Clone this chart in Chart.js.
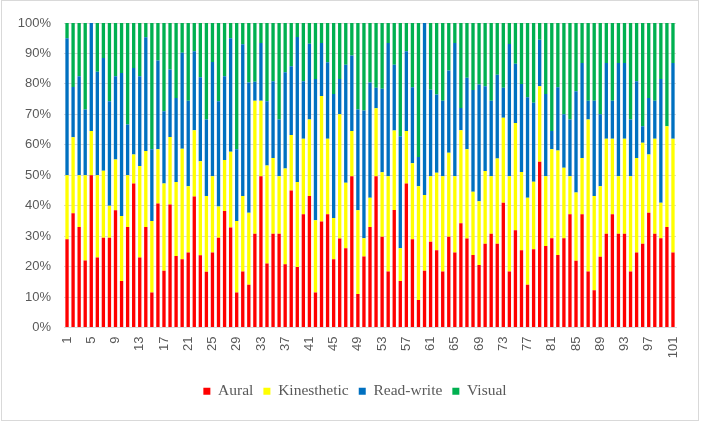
<!DOCTYPE html>
<html>
<head>
<meta charset="utf-8">
<script src="https://cdn.jsdelivr.net/npm/chart.js@4/dist/chart.umd.min.js"></script>
<style>
  html, body { margin: 0; padding: 0; background: #fff; }
  #wrap { width: 701px; height: 424px; position: relative; }
</style>
</head>
<body>
<div id="wrap"><canvas id="main-chart" width="701" height="424"></canvas></div>
<script>
// category labels (respondents 1..101)
const categories = [
  1, 2, 3, 4, 5, 6, 7, 8, 9, 10, 11, 12, 13, 14, 15, 16, 17, 18, 19, 20,
  21, 22, 23, 24, 25, 26, 27, 28, 29, 30, 31, 32, 33, 34, 35, 36, 37, 38, 39, 40,
  41, 42, 43, 44, 45, 46, 47, 48, 49, 50, 51, 52, 53, 54, 55, 56, 57, 58, 59, 60,
  61, 62, 63, 64, 65, 66, 67, 68, 69, 70, 71, 72, 73, 74, 75, 76, 77, 78, 79, 80,
  81, 82, 83, 84, 85, 86, 87, 88, 89, 90, 91, 92, 93, 94, 95, 96, 97, 98, 99, 100, 101
];

// share of each learning style per respondent (%)
const aural = [
  29, 37.5, 33, 22, 50, 23, 29.5, 29.5, 38.5, 15.3,
  33, 47.3, 23, 33, 11.5, 40.7, 18.6, 40.4, 23.5, 22.4,
  24.6, 43, 23.7, 18.3, 24.6, 29.5, 38.3, 32.8, 11.5, 18.4,
  14, 30.8, 49.7, 21, 30.8, 30.8, 20.8, 45, 19.9, 37.2,
  43.2, 11.5, 34.8, 37.2, 22.4, 29.2, 26, 49.7, 11, 23.3,
  33, 49.7, 29.8, 18.4, 38.6, 15.3, 47.3, 29, 9, 18.6,
  28.2, 25.4, 18.4, 29.8, 24.6, 34.2, 29.2, 23.8, 20.5, 27.5,
  30.8, 27.5, 41, 18.4, 31.9, 25.4, 14, 25.7, 54.4, 26.8,
  29.3, 23.8, 29.3, 37.2, 21.9, 37.2, 18.4, 12.2, 23.2, 30.8,
  37.2, 30.8, 30.8, 18.4, 24.6, 27.5, 37.7, 30.8, 29.3, 33, 24.6
];
const kinesthetic = [
  21, 25, 17, 28, 14.5, 27, 22, 10.5, 16.7, 21.3,
  17, 9.5, 30, 25, 23.5, 17.8, 28.7, 22.2, 24.3, 36.3,
  21.8, 21.8, 30.9, 24.9, 25.1, 10.2, 16.7, 24.9, 23.5, 24.8,
  23.7, 43.7, 24.8, 32.2, 24.9, 18.9, 31.4, 18.2, 27.9, 24.8,
  25.1, 23.7, 41.2, 24.8, 13.6, 40.8, 21.5, 14.8, 27.5, 6,
  9.6, 22.3, 21.2, 31.3, 26.1, 10.7, 17.2, 24.9, 37.4, 24.9,
  21.5, 25.4, 31.3, 27.6, 25.1, 30.6, 29.3, 20.8, 21, 23.9,
  18.9, 28, 27.9, 31.3, 35.3, 25.7, 28.6, 22.2, 24.8, 22.9,
  29.2, 34.3, 23.2, 12.5, 22.4, 18.5, 49.9, 31, 23.2, 31.2,
  24.8, 18.9, 31.2, 31.3, 31.1, 33.2, 19.1, 31.2, 11.7, 33.1, 37.4
];
const readWrite = [
  45, 16.5, 32.5, 21.6, 35.5, 34, 37, 34.3, 27.3, 47,
  16.7, 28.4, 29.5, 37.3, 23.5, 29.2, 23.7, 22.1, 27.6, 31.5,
  28.1, 25.9, 27.6, 25.1, 37.5, 34.6, 27.5, 37.3, 23.5, 49.8,
  42.8, 6.2, 18.9, 21.1, 25.2, 18.6, 31.6, 22.6, 47.6, 18.9,
  24.9, 46.4, 17.4, 25.1, 40.7, 11.6, 38.8, 24.8, 33.1, 42,
  37.9, 6.7, 27.4, 43.7, 21.6, 36.8, 26.2, 25, 9.6, 56.5,
  28.4, 25.7, 24.8, 27, 43.7, 7.3, 23.5, 33.4, 38.3, 27.8,
  24.8, 27.5, 9.8, 43.4, 19.4, 28.9, 33, 25.9, 15.3, 27,
  6, 20.8, 17.5, 18.6, 33.3, 31.2, 6.2, 31.3, 23.6, 24.9,
  12.5, 37.2, 24.9, 18.6, 25.2, 5.4, 18.6, 12.5, 40.6, 0, 24.9
];
const visual = [
  5, 21, 17.5, 28.4, 0, 16, 11.5, 25.7, 17.5, 16.4,
  33.3, 14.8, 17.5, 4.7, 41.5, 12.3, 29, 15.3, 24.6, 9.8,
  25.5, 9.3, 17.8, 31.7, 12.8, 25.7, 17.5, 5, 41.5, 7,
  19.5, 19.3, 6.6, 25.7, 19.1, 31.7, 16.2, 14.2, 4.6, 19.1,
  6.8, 18.4, 6.6, 12.9, 23.3, 18.4, 13.7, 10.7, 28.4, 28.7,
  19.5, 21.3, 21.6, 6.6, 13.7, 37.2, 9.3, 21.1, 44, 0,
  21.9, 23.5, 25.5, 15.6, 6.6, 27.9, 18, 22, 20.2, 20.8,
  25.5, 17, 21.3, 6.9, 13.4, 20, 24.4, 26.2, 5.5, 23.3,
  35.5, 21.1, 30, 31.7, 22.4, 13.1, 25.5, 25.5, 30, 13.1,
  25.5, 13.1, 13.1, 31.7, 19.1, 33.9, 24.6, 25.5, 18.4, 33.9, 13.1
];

const yTicks = [0, 10, 20, 30, 40, 50, 60, 70, 80, 90, 100];

const SERIES = [
  { label: 'Aural',       data: aural,       color: '#FF0000' },
  { label: 'Kinesthetic', data: kinesthetic, color: '#FFFF00' },
  { label: 'Read-write',  data: readWrite,   color: '#0070C0' },
  { label: 'Visual',      data: visual,      color: '#00B050' },
];

const AXIS_FONT = { family: "'Liberation Sans', Arial, sans-serif", size: 13 };
const TEXT_COLOR = '#595959';
const GRID_COLOR = '#d9d9d9';

// thin frame around the whole chart, like the office chart area
const frame = {
  id: 'frame',
  afterDraw(chart) {
    const c = chart.ctx;
    c.save();
    c.strokeStyle = GRID_COLOR;
    c.lineWidth = 1;
    c.strokeRect(1.5, 0.5, 697, 420);
    c.restore();
  }
};

// legend sits centred under the plot area, not under the whole canvas
const legendShift = {
  id: 'legendShift',
  afterLayout(chart) {
    const lg = chart.legend;
    if (!lg) return;
    lg.left += 17;
    lg.right += 17;
  }
};

const datasets = SERIES.map(s => ({
  label: s.label,
  data: s.data,
  backgroundColor: s.color,
  borderWidth: 0,
  barPercentage: 0.55,
  categoryPercentage: 1.0,
}));

new Chart(document.getElementById('main-chart'), {
  type: 'bar',
  data: { labels: categories, datasets },
  plugins: [frame, legendShift],
  options: {
    responsive: false,
    animation: false,
    layout: { padding: { top: 23, right: 25, left: 0, bottom: 15 } },
    plugins: {
      tooltip: { enabled: false },
      legend: {
        position: 'bottom',
        labels: {
          color: TEXT_COLOR,
          font: { family: "'Liberation Serif', 'Times New Roman', serif", size: 15.5 },
          boxWidth: 7,
          boxHeight: 7,
          padding: 10,
        }
      }
    },
    scales: {
      x: {
        stacked: true,
        grid: { display: false, drawTicks: false },
        border: { display: true, color: GRID_COLOR },
        ticks: {
          autoSkip: false,
          minRotation: 90,
          maxRotation: 90,
          padding: 9,
          color: TEXT_COLOR,
          font: AXIS_FONT,
          callback: (v, i) => (i % 4 === 0 ? String(categories[i]) : ''),
        },
        afterFit: (scale) => { scale.height = 46; },
      },
      y: {
        stacked: true,
        min: 0,
        max: 100,
        afterBuildTicks: (scale) => { scale.ticks = yTicks.map(v => ({ value: v })); },
        grid: { color: GRID_COLOR, drawTicks: false },
        border: { display: false },
        ticks: {
          padding: 13,
          color: TEXT_COLOR,
          font: AXIS_FONT,
          callback: (v) => v + '%',
        },
        afterFit: (scale) => { scale.width = 64; },
      }
    }
  }
});
</script>
</body>
</html>
